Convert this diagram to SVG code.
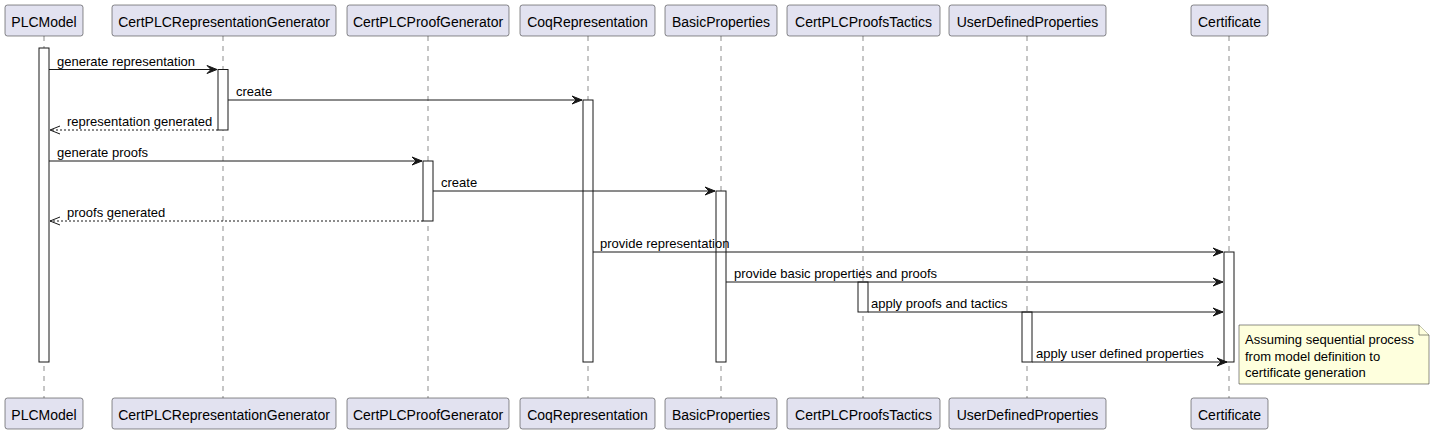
<svg xmlns="http://www.w3.org/2000/svg" width="1435" height="435" viewBox="0 0 1435 435">
<style>
.pbox{fill:#E2E2F0;stroke:#181818;stroke-width:0.5}
.ptxt{font-family:"Liberation Sans",Arial,sans-serif;font-size:14px;fill:#000;text-anchor:middle}
.life{stroke:#181818;stroke-width:0.5;stroke-dasharray:5,5;fill:none}
.act{fill:#FFFFFF;stroke:#181818;stroke-width:1}
.msg{stroke:#181818;stroke-width:1;fill:none}
.ret{stroke:#181818;stroke-width:1;fill:none;stroke-dasharray:2,2}
.mtxt{font-family:"Liberation Sans",Arial,sans-serif;font-size:13px;fill:#000}
.note{fill:#FEFFDD;stroke:#181818;stroke-width:0.5}
</style>
<defs>
<marker id="ah" markerUnits="userSpaceOnUse" markerWidth="12" markerHeight="10" refX="10" refY="4" orient="auto" overflow="visible">
<path d="M0,0 L10,4 L0,8 L4,4 Z" fill="#181818" stroke="#181818" stroke-width="1"/>
</marker>
<marker id="ao" markerUnits="userSpaceOnUse" markerWidth="12" markerHeight="10" refX="10" refY="4" orient="auto" overflow="visible">
<path d="M0,0 L10,4 L0,8" fill="none" stroke="#181818" stroke-width="1"/>
</marker>
</defs>
<g id="lifelines">
<line class="life" x1="44" y1="36" x2="44" y2="398"/>
<line class="life" x1="223" y1="36" x2="223" y2="398"/>
<line class="life" x1="428" y1="36" x2="428" y2="398"/>
<line class="life" x1="588" y1="36" x2="588" y2="398"/>
<line class="life" x1="721" y1="36" x2="721" y2="398"/>
<line class="life" x1="863" y1="36" x2="863" y2="398"/>
<line class="life" x1="1027" y1="36" x2="1027" y2="398"/>
<line class="life" x1="1229" y1="36" x2="1229" y2="398"/>
</g>
<g id="PLCModel">
<rect class="pbox" x="5" y="5" width="78" height="31" rx="2.5"/><text class="ptxt" x="44" y="27">PLCModel</text>
<rect class="pbox" x="5" y="398" width="78" height="31" rx="2.5"/><text class="ptxt" x="44" y="420">PLCModel</text>
<rect class="act" x="39" y="48" width="10" height="314"/>
</g>
<g id="CertPLCRepresentationGenerator">
<rect class="pbox" x="112" y="5" width="224" height="31" rx="2.5"/><text class="ptxt" x="224" y="27">CertPLCRepresentationGenerator</text>
<rect class="pbox" x="112" y="398" width="224" height="31" rx="2.5"/><text class="ptxt" x="224" y="420">CertPLCRepresentationGenerator</text>
<rect class="act" x="218" y="69.5" width="10" height="60.5"/>
</g>
<g id="CertPLCProofGenerator">
<rect class="pbox" x="347" y="5" width="162" height="31" rx="2.5"/><text class="ptxt" x="428" y="27">CertPLCProofGenerator</text>
<rect class="pbox" x="347" y="398" width="162" height="31" rx="2.5"/><text class="ptxt" x="428" y="420">CertPLCProofGenerator</text>
<rect class="act" x="423" y="161" width="10" height="60"/>
</g>
<g id="CoqRepresentation">
<rect class="pbox" x="520" y="5" width="135" height="31" rx="2.5"/><text class="ptxt" x="587.5" y="27">CoqRepresentation</text>
<rect class="pbox" x="520" y="398" width="135" height="31" rx="2.5"/><text class="ptxt" x="587.5" y="420">CoqRepresentation</text>
<rect class="act" x="583" y="100" width="10" height="262"/>
</g>
<g id="BasicProperties">
<rect class="pbox" x="665" y="5" width="112" height="31" rx="2.5"/><text class="ptxt" x="721" y="27">BasicProperties</text>
<rect class="pbox" x="665" y="398" width="112" height="31" rx="2.5"/><text class="ptxt" x="721" y="420">BasicProperties</text>
<rect class="act" x="716" y="191" width="10" height="171"/>
</g>
<g id="CertPLCProofsTactics">
<rect class="pbox" x="787" y="5" width="153" height="31" rx="2.5"/><text class="ptxt" x="863.5" y="27">CertPLCProofsTactics</text>
<rect class="pbox" x="787" y="398" width="153" height="31" rx="2.5"/><text class="ptxt" x="863.5" y="420">CertPLCProofsTactics</text>
<rect class="act" x="858" y="282" width="10" height="30"/>
</g>
<g id="UserDefinedProperties">
<rect class="pbox" x="949" y="5" width="157" height="31" rx="2.5"/><text class="ptxt" x="1027.5" y="27">UserDefinedProperties</text>
<rect class="pbox" x="949" y="398" width="157" height="31" rx="2.5"/><text class="ptxt" x="1027.5" y="420">UserDefinedProperties</text>
<rect class="act" x="1022" y="312" width="10" height="50"/>
</g>
<g id="Certificate">
<rect class="pbox" x="1191" y="5" width="77" height="31" rx="2.5"/><text class="ptxt" x="1229.5" y="27">Certificate</text>
<rect class="pbox" x="1191" y="398" width="77" height="31" rx="2.5"/><text class="ptxt" x="1229.5" y="420">Certificate</text>
<rect class="act" x="1224" y="252" width="10" height="110"/>
</g>
<g id="connectors">
<line class="msg" x1="49" y1="69.5" x2="217" y2="69.5" marker-end="url(#ah)"/>
<text class="mtxt" x="57" y="65.5">generate representation</text>
<line class="msg" x1="228" y1="100" x2="582" y2="100" marker-end="url(#ah)"/>
<text class="mtxt" x="236" y="96">create</text>
<line class="ret" x1="218" y1="130" x2="50" y2="130" marker-end="url(#ao)"/>
<text class="mtxt" x="67" y="126">representation generated</text>
<line class="msg" x1="49" y1="161" x2="422" y2="161" marker-end="url(#ah)"/>
<text class="mtxt" x="57" y="157">generate proofs</text>
<line class="msg" x1="433" y1="191" x2="715" y2="191" marker-end="url(#ah)"/>
<text class="mtxt" x="441" y="187">create</text>
<line class="ret" x1="423" y1="221" x2="50" y2="221" marker-end="url(#ao)"/>
<text class="mtxt" x="67" y="217">proofs generated</text>
<line class="msg" x1="593" y1="252" x2="1223" y2="252" marker-end="url(#ah)"/>
<text class="mtxt" x="600" y="248">provide representation</text>
<line class="msg" x1="726" y1="282" x2="1223" y2="282" marker-end="url(#ah)"/>
<text class="mtxt" x="734" y="278">provide basic properties and proofs</text>
<line class="msg" x1="868" y1="312" x2="1223" y2="312" marker-end="url(#ah)"/>
<text class="mtxt" x="871" y="308">apply proofs and tactics</text>
<line class="msg" x1="1032" y1="362" x2="1227" y2="362" marker-end="url(#ah)"/>
<text class="mtxt" x="1036" y="358">apply user defined properties</text>
</g>
<g id="note">
<path class="note" d="M1239,325 L1419,325 L1429,335 L1429,384 L1239,384 Z"/>
<path class="note" d="M1419,325 L1419,335 L1429,335" fill="none"/>
<text class="mtxt" x="1245" y="344">Assuming sequential process</text>
<text class="mtxt" x="1245" y="361">from model definition to</text>
<text class="mtxt" x="1245" y="377">certificate generation</text>
</g>
</svg>
